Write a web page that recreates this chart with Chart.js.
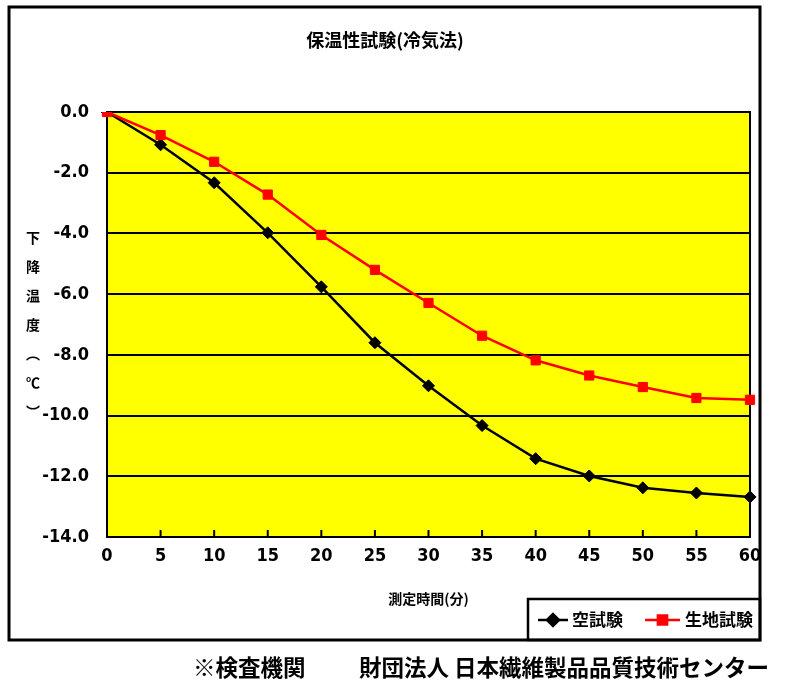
<!DOCTYPE html>
<html><head><meta charset="utf-8">
<script src="https://cdn.jsdelivr.net/npm/chart.js@4.4.0/dist/chart.umd.min.js"></script>
<style>html,body{margin:0;padding:0;background:#fff;}#wrap{width:787px;height:692px;position:relative;}</style>
</head><body><div id="wrap"><canvas id="c" width="787" height="692"></canvas></div>
<script>
// ---- data ----
const minutes = [0, 5, 10, 15, 20, 25, 30, 35, 40, 45, 50, 55, 60];
const blankTest = [0, -1.08, -2.33, -3.98, -5.76, -7.6, -9.02, -10.33, -11.42, -11.99, -12.38, -12.55, -12.68];
const fabricTest = [0, -0.76, -1.64, -2.72, -4.05, -5.2, -6.29, -7.37, -8.18, -8.68, -9.06, -9.42, -9.48];
const yMin = -14, yMax = 0, yStep = 2;
const seriesNames = ['空試験', '生地試験'];
const titleText = '保温性試験(冷気法)';
const xTitleText = '測定時間(分)';
const yTitleChars = ['下', '降', '温', '度', '︵', '℃', '︶'];
const footnoteLeft = '※検査機関';
const footnoteRight = '財団法人 日本繊維製品品質技術センター';

const JP = "'Noto Sans CJK JP', 'Noto Sans', sans-serif";
const NUM = "'Liberation Sans Narrow', 'Arial Narrow', 'DejaVu Sans Condensed', 'Liberation Sans', sans-serif";

const decorPlugin = {
  id: 'decor',
  beforeDraw(chart) {
    const {ctx, chartArea: a} = chart;
    ctx.save();
    ctx.fillStyle = '#ffffff';
    ctx.fillRect(0, 0, chart.width, chart.height);
    ctx.fillStyle = '#ffff00';
    ctx.fillRect(a.left, a.top, a.right - a.left, a.bottom - a.top);
    ctx.restore();
  },
  beforeDatasetsDraw(chart) {
    const {ctx, chartArea: a} = chart;
    const xs = chart.scales.x;
    ctx.save();
    ctx.strokeStyle = '#000';
    ctx.lineWidth = 2;
    ctx.strokeRect(a.left, a.top, a.right - a.left, a.bottom - a.top);
    for (let i = 0; i < xs.ticks.length; i++) {
      const x = xs.getPixelForTick(i);
      ctx.beginPath();
      ctx.moveTo(x, a.bottom);
      ctx.lineTo(x, a.bottom - 7);
      ctx.stroke();
    }
    ctx.restore();
  },
  afterDraw(chart) {
    const {ctx} = chart;
    ctx.save();
    ctx.strokeStyle = '#000';
    ctx.lineWidth = 3;
    ctx.strokeRect(9, 7, 751, 633);
    ctx.fillStyle = '#000';
    ctx.font = 'bold 14px ' + JP;
    ctx.textAlign = 'center';
    ctx.textBaseline = 'middle';
    yTitleChars.forEach((ch, i) => ctx.fillText(ch, 33, 238 + i * 29));
    ctx.lineWidth = 2.5;
    ctx.strokeRect(528, 599, 232, 41);
    const ds = chart.data.datasets;
    const order = [1, 0];
    const pos = [{x1: 538, x2: 568, tx: 572}, {x1: 645, x2: 680, tx: 685}];
    order.forEach((di, k) => {
      const d = ds[di];
      const p = pos[k];
      const y = 620;
      ctx.strokeStyle = d.borderColor;
      ctx.lineWidth = 2.5;
      ctx.beginPath(); ctx.moveTo(p.x1, y); ctx.lineTo(p.x2, y); ctx.stroke();
      ctx.fillStyle = d.borderColor;
      Chart.helpers.drawPoint(ctx, {pointStyle: d.pointStyle, radius: d.pointRadius, borderWidth: 1}, (p.x1 + p.x2) / 2, y);
      ctx.fill();
      ctx.fillStyle = '#000';
      ctx.font = 'bold 17px ' + JP;
      ctx.textAlign = 'left';
      ctx.textBaseline = 'middle';
      ctx.fillText(d.label, p.tx, y);
    });
    ctx.fillStyle = '#000';
    ctx.font = 'bold 22.5px ' + JP;
    ctx.textAlign = 'left';
    ctx.textBaseline = 'middle';
    ctx.fillText(footnoteLeft, 193, 667);
    ctx.fillText(footnoteRight, 359, 667);
    ctx.restore();
  }
};

new Chart(document.getElementById('c'), {
  type: 'line',
  data: {
    labels: minutes,
    datasets: [
      {
        label: seriesNames[1], data: fabricTest, order: 0,
        borderColor: '#ff0000', backgroundColor: '#ff0000',
        borderWidth: 2.5, pointStyle: 'rect', pointRadius: 6.5,
        pointBorderWidth: 1, tension: 0
      },
      {
        label: seriesNames[0], data: blankTest, order: 1,
        borderColor: '#000000', backgroundColor: '#000000',
        borderWidth: 2.5, pointStyle: 'rectRot', pointRadius: 6,
        pointBorderWidth: 1, tension: 0
      }
    ]
  },
  options: {
    responsive: false,
    animation: false,
    devicePixelRatio: 1,
    layout: {padding: {left: 20, right: 37, top: 0, bottom: 80.6}},
    plugins: {
      legend: {display: false},
      tooltip: {enabled: false},
      title: {
        display: true, text: titleText, color: '#000',
        font: {family: JP, size: 18, weight: 'bold'},
        padding: {top: 29, bottom: 61.4}
      }
    },
    scales: {
      x: {
        type: 'category', offset: false,
        grid: {display: false, drawTicks: false},
        border: {display: true, color: '#000', width: 2},
        ticks: {color: '#000', padding: 9, maxRotation: 0, autoSkip: false,
          font: {family: NUM, size: 18, weight: 'bold'}},
        title: {display: true, text: xTitleText, color: '#000',
          font: {family: JP, size: 14, weight: 'bold'}},
        afterFit(s) { s.height = 74.4; }
      },
      y: {
        min: yMin, max: yMax,
        grid: {color: '#000', lineWidth: 2, drawTicks: false},
        border: {display: true, color: '#000', width: 2},
        ticks: {stepSize: yStep, color: '#000', padding: 18,
          font: {family: NUM, size: 18, weight: 'bold'},
          callback: v => Number(v).toFixed(1)},
        afterFit(s) { s.width = 87; }
      }
    }
  },
  plugins: [decorPlugin]
});
</script>
</body></html>
